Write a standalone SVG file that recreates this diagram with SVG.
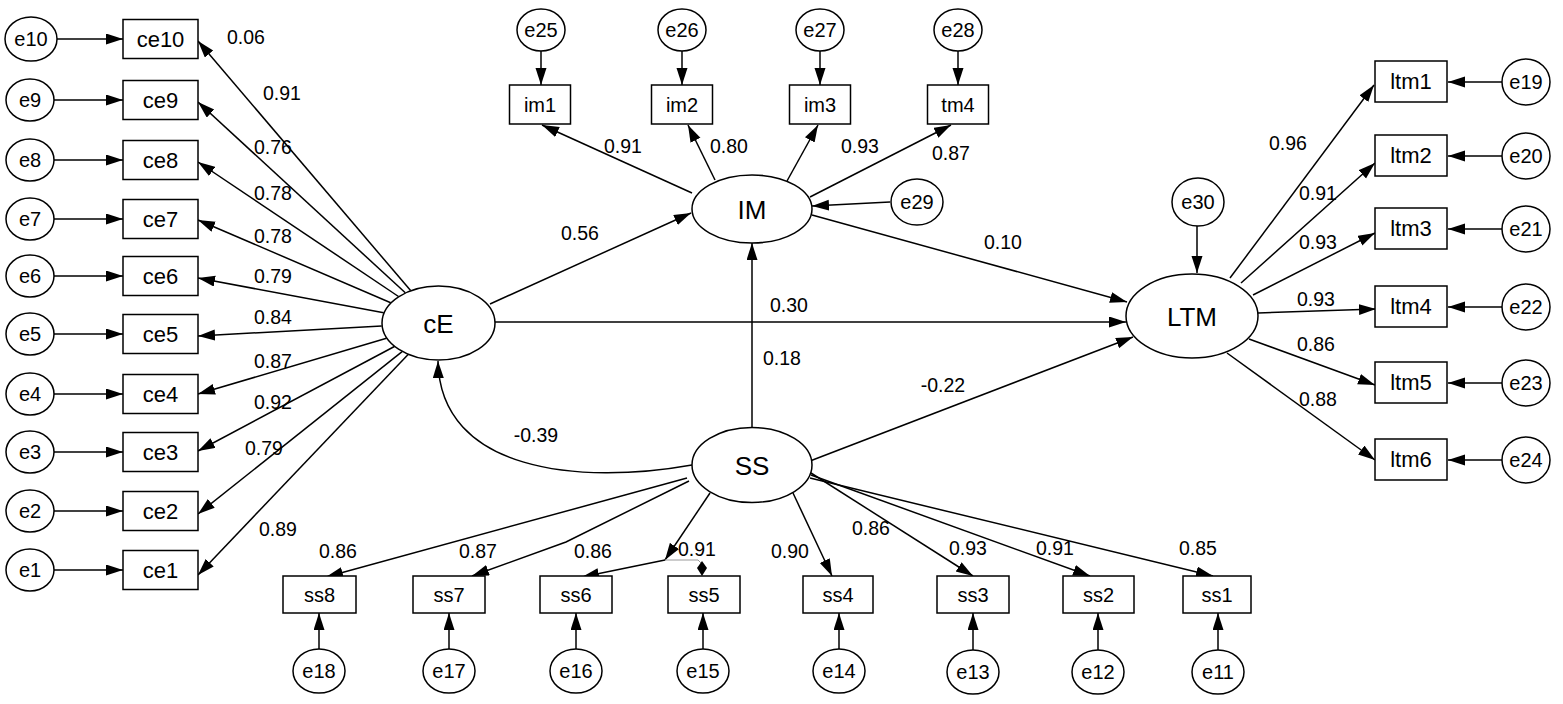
<svg xmlns="http://www.w3.org/2000/svg" width="1563" height="704" viewBox="0 0 1563 704">
<style>
.n{fill:#fff;stroke:#000;stroke-width:1.5}
.c{fill:none;stroke:#000;stroke-width:1.5;marker-end:url(#ah)}
.p{fill:none;stroke:#000;stroke-width:1.5}
text{font-family:"Liberation Sans",Arial,Helvetica,sans-serif;text-anchor:middle;dominant-baseline:central;fill:#000}
.l{font-size:19.5px}
.s{font-size:20px}
.b{font-size:22px}
.L{font-size:26px}
</style>
<defs>
<marker id="ah" markerUnits="userSpaceOnUse" markerWidth="18" markerHeight="12" refX="17" refY="5.5" orient="auto"><path d="M0,0 L17,5.5 L0,11 z" fill="#000"/></marker>
</defs>
<rect width="1563" height="704" fill="#fff"/>
<g id="connectors">
<line class="c" x1="57" y1="39" x2="123" y2="39"/>
<line class="c" x1="54" y1="100" x2="123" y2="100"/>
<line class="c" x1="54" y1="160" x2="123" y2="160"/>
<line class="c" x1="54" y1="219" x2="123" y2="219"/>
<line class="c" x1="54" y1="276" x2="123" y2="276"/>
<line class="c" x1="54" y1="334" x2="123" y2="334"/>
<line class="c" x1="54" y1="394" x2="123" y2="394"/>
<line class="c" x1="54" y1="452" x2="123" y2="452"/>
<line class="c" x1="54" y1="511" x2="123" y2="511"/>
<line class="c" x1="54" y1="570" x2="123" y2="570"/>
<line class="c" x1="410.6" y1="290.6" x2="198" y2="41"/>
<line class="c" x1="405.3" y1="292.8" x2="198" y2="102"/>
<line class="c" x1="398.5" y1="296.5" x2="198" y2="162"/>
<line class="c" x1="390.7" y1="302.7" x2="198" y2="220"/>
<line class="c" x1="383.7" y1="312.8" x2="198" y2="278"/>
<line class="c" x1="381.7" y1="326" x2="198" y2="336"/>
<line class="c" x1="386.5" y1="338.3" x2="198" y2="394"/>
<line class="c" x1="394.4" y1="346.5" x2="198" y2="451"/>
<line class="c" x1="402.1" y1="351.6" x2="198" y2="514"/>
<line class="c" x1="408.1" y1="354.4" x2="198" y2="575"/>
<line class="c" x1="541" y1="51" x2="541" y2="85"/>
<line class="c" x1="682" y1="51" x2="682" y2="85"/>
<line class="c" x1="820" y1="51" x2="820" y2="85"/>
<line class="c" x1="958" y1="51" x2="958" y2="85"/>
<line class="c" x1="692" y1="193" x2="542" y2="125"/>
<line class="c" x1="715" y1="180" x2="688" y2="125"/>
<line class="c" x1="787" y1="181" x2="818" y2="125"/>
<line class="c" x1="810" y1="197" x2="951" y2="125"/>
<line class="c" x1="890" y1="202" x2="812" y2="206"/>
<line class="c" x1="490" y1="304" x2="691" y2="213"/>
<line class="c" x1="812" y1="215" x2="1127" y2="302"/>
<line class="c" x1="495" y1="322" x2="1126" y2="322"/>
<line class="c" x1="752" y1="427" x2="752" y2="243"/>
<line class="c" x1="810" y1="461" x2="1133" y2="337"/>
<path class="c" d="M692,465 C580,485 440,472 438,361"/>
<line class="c" x1="1197" y1="226" x2="1197" y2="273"/>
<line class="c" x1="1230" y1="278" x2="1374" y2="85"/>
<line class="c" x1="1241" y1="283" x2="1375" y2="163"/>
<line class="c" x1="1253" y1="295" x2="1375" y2="233"/>
<line class="c" x1="1258" y1="313" x2="1376" y2="309"/>
<line class="c" x1="1249" y1="339" x2="1375" y2="385"/>
<line class="c" x1="1227" y1="353" x2="1375" y2="460"/>
<line class="c" x1="1502" y1="82" x2="1448" y2="82"/>
<line class="c" x1="1502" y1="156" x2="1448" y2="156"/>
<line class="c" x1="1502" y1="229" x2="1448" y2="229"/>
<line class="c" x1="1502" y1="307" x2="1448" y2="307"/>
<line class="c" x1="1502" y1="383" x2="1448" y2="383"/>
<line class="c" x1="1502" y1="460" x2="1448" y2="460"/>
<line class="c" x1="687" y1="478" x2="326" y2="577"/>
<polyline class="c" points="689,481 566,542 472,576"/>
<line class="c" x1="710" y1="493" x2="665" y2="560"/>
<line class="c" x1="665" y1="560" x2="582" y2="577"/>
<polyline points="665,560 698,560 701,563" fill="none" stroke="#999" stroke-width="1"/>
<polygon points="702,561 707,568 702,576 697,568" fill="#000"/>
<line class="c" x1="793" y1="493" x2="832" y2="576"/>
<line class="c" x1="811" y1="473" x2="973" y2="576"/>
<line class="c" x1="811" y1="475" x2="1090" y2="576"/>
<line class="c" x1="810" y1="478" x2="1213" y2="576"/>
<line class="c" x1="319" y1="649" x2="319" y2="613"/>
<line class="c" x1="449" y1="649" x2="449" y2="613"/>
<line class="c" x1="576" y1="649" x2="576" y2="613"/>
<line class="c" x1="703" y1="649" x2="703" y2="613"/>
<line class="c" x1="839" y1="649" x2="839" y2="613"/>
<line class="c" x1="973" y1="650" x2="973" y2="613"/>
<line class="c" x1="1098" y1="650" x2="1098" y2="613"/>
<line class="c" x1="1218" y1="650" x2="1218" y2="613"/>
</g>
<g id="loadings">
<text class="l" x="246" y="37">0.06</text>
<text class="l" x="282" y="93">0.91</text>
<text class="l" x="273" y="147">0.76</text>
<text class="l" x="273" y="193">0.78</text>
<text class="l" x="273" y="236">0.78</text>
<text class="l" x="273" y="276">0.79</text>
<text class="l" x="273" y="317">0.84</text>
<text class="l" x="273" y="361">0.87</text>
<text class="l" x="273" y="402">0.92</text>
<text class="l" x="264" y="448">0.79</text>
<text class="l" x="278" y="529">0.89</text>
<text class="l" x="623" y="146">0.91</text>
<text class="l" x="729" y="146">0.80</text>
<text class="l" x="860" y="146">0.93</text>
<text class="l" x="951" y="153">0.87</text>
<text class="l" x="580" y="233">0.56</text>
<text class="l" x="1003" y="242">0.10</text>
<text class="l" x="789" y="305">0.30</text>
<text class="l" x="782" y="358">0.18</text>
<text class="l" x="943" y="385">-0.22</text>
<text class="l" x="536" y="435">-0.39</text>
<text class="l" x="1288" y="143">0.96</text>
<text class="l" x="1318" y="193">0.91</text>
<text class="l" x="1318" y="242">0.93</text>
<text class="l" x="1316" y="299">0.93</text>
<text class="l" x="1316" y="344">0.86</text>
<text class="l" x="1318" y="399">0.88</text>
<text class="l" x="338" y="551">0.86</text>
<text class="l" x="478" y="551">0.87</text>
<text class="l" x="593" y="551">0.86</text>
<text class="l" x="697" y="549">0.91</text>
<text class="l" x="790" y="551">0.90</text>
<text class="l" x="871" y="528">0.86</text>
<text class="l" x="968" y="548">0.93</text>
<text class="l" x="1055" y="548">0.91</text>
<text class="l" x="1198" y="548">0.85</text>
</g>
<g id="cE"><ellipse class="n" cx="438.5" cy="323" rx="56.5" ry="37"/><text class="L" x="438.5" y="324">cE</text></g>
<g id="IM"><ellipse class="n" cx="752" cy="209" rx="60" ry="34"/><text class="L" x="752" y="210">IM</text></g>
<g id="SS"><ellipse class="n" cx="752" cy="465" rx="60" ry="37.5"/><text class="L" x="752" y="466">SS</text></g>
<g id="LTM"><ellipse class="n" cx="1192" cy="316" rx="66" ry="42"/><text class="L" x="1192" y="317">LTM</text></g>
<g id="ce10"><rect class="n" x="123" y="19.5" width="75" height="39"/><text class="b" x="160.5" y="39">ce10</text></g>
<g id="ce9"><rect class="n" x="123" y="80.5" width="75" height="39"/><text class="b" x="160.5" y="100">ce9</text></g>
<g id="ce8"><rect class="n" x="123" y="140.5" width="75" height="39"/><text class="b" x="160.5" y="160">ce8</text></g>
<g id="ce7"><rect class="n" x="123" y="199.5" width="75" height="39"/><text class="b" x="160.5" y="219">ce7</text></g>
<g id="ce6"><rect class="n" x="123" y="256.5" width="75" height="39"/><text class="b" x="160.5" y="276">ce6</text></g>
<g id="ce5"><rect class="n" x="123" y="314.5" width="75" height="39"/><text class="b" x="160.5" y="334">ce5</text></g>
<g id="ce4"><rect class="n" x="123" y="374.5" width="75" height="39"/><text class="b" x="160.5" y="394">ce4</text></g>
<g id="ce3"><rect class="n" x="123" y="432.5" width="75" height="39"/><text class="b" x="160.5" y="452">ce3</text></g>
<g id="ce2"><rect class="n" x="123" y="491.5" width="75" height="39"/><text class="b" x="160.5" y="511">ce2</text></g>
<g id="ce1"><rect class="n" x="123" y="550.5" width="75" height="39"/><text class="b" x="160.5" y="570">ce1</text></g>
<g id="e10"><ellipse class="n" cx="31" cy="39" rx="26" ry="22"/><text class="s" x="31" y="39">e10</text></g>
<g id="e9"><ellipse class="n" cx="30" cy="100" rx="24" ry="21"/><text class="s" x="30" y="100">e9</text></g>
<g id="e8"><ellipse class="n" cx="30" cy="160" rx="24" ry="21"/><text class="s" x="30" y="160">e8</text></g>
<g id="e7"><ellipse class="n" cx="30" cy="219" rx="24" ry="21"/><text class="s" x="30" y="219">e7</text></g>
<g id="e6"><ellipse class="n" cx="30" cy="276" rx="24" ry="21"/><text class="s" x="30" y="276">e6</text></g>
<g id="e5"><ellipse class="n" cx="30" cy="334" rx="24" ry="21"/><text class="s" x="30" y="334">e5</text></g>
<g id="e4"><ellipse class="n" cx="30" cy="394" rx="24" ry="21"/><text class="s" x="30" y="394">e4</text></g>
<g id="e3"><ellipse class="n" cx="30" cy="452" rx="24" ry="21"/><text class="s" x="30" y="452">e3</text></g>
<g id="e2"><ellipse class="n" cx="30" cy="511" rx="24" ry="21"/><text class="s" x="30" y="511">e2</text></g>
<g id="e1"><ellipse class="n" cx="30" cy="570" rx="24" ry="21"/><text class="s" x="30" y="570">e1</text></g>
<g id="im1"><rect class="n" x="509.5" y="85" width="61" height="39"/><text class="s" x="540" y="104.5">im1</text></g>
<g id="im2"><rect class="n" x="651.5" y="85" width="61" height="39"/><text class="s" x="682" y="104.5">im2</text></g>
<g id="im3"><rect class="n" x="789.5" y="85" width="61" height="39"/><text class="s" x="820" y="104.5">im3</text></g>
<g id="tm4"><rect class="n" x="927.5" y="85" width="61" height="39"/><text class="s" x="958" y="104.5">tm4</text></g>
<g id="e25"><ellipse class="n" cx="541" cy="30" rx="24" ry="21"/><text class="s" x="541" y="30">e25</text></g>
<g id="e26"><ellipse class="n" cx="682" cy="30" rx="24" ry="21"/><text class="s" x="682" y="30">e26</text></g>
<g id="e27"><ellipse class="n" cx="820" cy="30" rx="24" ry="21"/><text class="s" x="820" y="30">e27</text></g>
<g id="e28"><ellipse class="n" cx="958" cy="30" rx="24" ry="21"/><text class="s" x="958" y="30">e28</text></g>
<g id="e29"><ellipse class="n" cx="917" cy="202" rx="26" ry="23"/><text class="s" x="917" y="202">e29</text></g>
<g id="e30"><ellipse class="n" cx="1198" cy="202" rx="26" ry="24"/><text class="s" x="1198" y="202">e30</text></g>
<g id="ltm1"><rect class="n" x="1375" y="61" width="72" height="41"/><text class="b" x="1411" y="81.5">ltm1</text></g>
<g id="ltm2"><rect class="n" x="1375" y="135" width="72" height="41"/><text class="b" x="1411" y="155.5">ltm2</text></g>
<g id="ltm3"><rect class="n" x="1375" y="208" width="72" height="41"/><text class="b" x="1411" y="228.5">ltm3</text></g>
<g id="ltm4"><rect class="n" x="1375" y="286" width="72" height="41"/><text class="b" x="1411" y="306.5">ltm4</text></g>
<g id="ltm5"><rect class="n" x="1375" y="362" width="72" height="41"/><text class="b" x="1411" y="382.5">ltm5</text></g>
<g id="ltm6"><rect class="n" x="1375" y="439" width="72" height="41"/><text class="b" x="1411" y="459.5">ltm6</text></g>
<g id="e19"><ellipse class="n" cx="1526" cy="82" rx="24" ry="23"/><text class="s" x="1526" y="82">e19</text></g>
<g id="e20"><ellipse class="n" cx="1526" cy="156" rx="24" ry="23"/><text class="s" x="1526" y="156">e20</text></g>
<g id="e21"><ellipse class="n" cx="1526" cy="229" rx="24" ry="23"/><text class="s" x="1526" y="229">e21</text></g>
<g id="e22"><ellipse class="n" cx="1526" cy="307" rx="24" ry="23"/><text class="s" x="1526" y="307">e22</text></g>
<g id="e23"><ellipse class="n" cx="1526" cy="383" rx="24" ry="23"/><text class="s" x="1526" y="383">e23</text></g>
<g id="e24"><ellipse class="n" cx="1526" cy="460" rx="24" ry="23"/><text class="s" x="1526" y="460">e24</text></g>
<g id="ss8"><rect class="n" x="283" y="576" width="73" height="37"/><text class="s" x="319.5" y="594.5">ss8</text></g>
<g id="ss7"><rect class="n" x="413" y="576" width="72" height="37"/><text class="s" x="449" y="594.5">ss7</text></g>
<g id="ss6"><rect class="n" x="540" y="576" width="72" height="37"/><text class="s" x="576" y="594.5">ss6</text></g>
<g id="ss5"><rect class="n" x="668" y="576" width="72" height="37"/><text class="s" x="704" y="594.5">ss5</text></g>
<g id="ss4"><rect class="n" x="803" y="576" width="70" height="37"/><text class="s" x="838" y="594.5">ss4</text></g>
<g id="ss3"><rect class="n" x="937" y="576" width="72" height="37"/><text class="s" x="973" y="594.5">ss3</text></g>
<g id="ss2"><rect class="n" x="1063" y="576" width="71" height="37"/><text class="s" x="1098.5" y="594.5">ss2</text></g>
<g id="ss1"><rect class="n" x="1183" y="576" width="68" height="37"/><text class="s" x="1217" y="594.5">ss1</text></g>
<g id="e18"><ellipse class="n" cx="319" cy="671" rx="26" ry="22"/><text class="s" x="319" y="671">e18</text></g>
<g id="e17"><ellipse class="n" cx="449" cy="671" rx="26" ry="22"/><text class="s" x="449" y="671">e17</text></g>
<g id="e16"><ellipse class="n" cx="576" cy="671" rx="26" ry="22"/><text class="s" x="576" y="671">e16</text></g>
<g id="e15"><ellipse class="n" cx="703" cy="671" rx="26" ry="22"/><text class="s" x="703" y="671">e15</text></g>
<g id="e14"><ellipse class="n" cx="839" cy="671" rx="26" ry="22"/><text class="s" x="839" y="671">e14</text></g>
<g id="e13"><ellipse class="n" cx="973" cy="672" rx="26" ry="22"/><text class="s" x="973" y="672">e13</text></g>
<g id="e12"><ellipse class="n" cx="1098" cy="672" rx="26" ry="22"/><text class="s" x="1098" y="672">e12</text></g>
<g id="e11"><ellipse class="n" cx="1218" cy="672" rx="26" ry="22"/><text class="s" x="1218" y="672">e11</text></g>
</svg>
